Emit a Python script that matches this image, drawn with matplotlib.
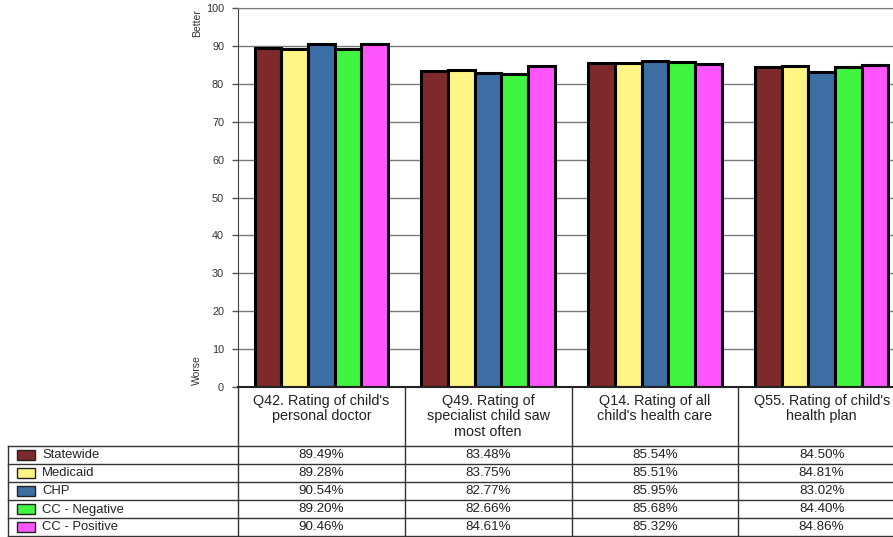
import numpy as np
import matplotlib
matplotlib.use("Agg")
from matplotlib import pyplot as plt
from matplotlib.patches import Rectangle

plt.rcParams['font.family'] = ['Liberation Sans', 'DejaVu Sans']

categories = ["Q42. Rating of child's\npersonal doctor",
              "Q49. Rating of\nspecialist child saw\nmost often",
              "Q14. Rating of all\nchild's health care",
              "Q55. Rating of child's\nhealth plan"]
series = ["Statewide", "Medicaid", "CHP", "CC - Negative", "CC - Positive"]
statewide = [89.49, 83.48, 85.54, 84.50]
medicaid = [89.28, 83.75, 85.51, 84.81]
chp = [90.54, 82.77, 85.95, 83.02]
cc_neg = [89.20, 82.66, 85.68, 84.40]
cc_pos = [90.46, 84.61, 85.32, 84.86]
valeurs = [statewide, medicaid, chp, cc_neg, cc_pos]
couleurs = ["#7e2a2a", "#fff584", "#3c6ea3", "#3ff53f", "#ff55ff"]

W, H = 893, 537
fig = plt.figure(figsize=(W/100, H/100), dpi=100)

# zone du graphique en pixels (la derniere colonne depasse a droite)
x0, x1, ytop, ybas = 238, 905, 8, 387
ax = fig.add_axes([x0/W, 1 - ybas/H, (x1 - x0)/W, (ybas - ytop)/H])
ax.set_xlim(0, len(categories))
ax.set_ylim(0, 100)
ax.set_yticks(np.arange(0, 101, 10))
ax.set_xticks([])
ax.tick_params(axis='y', length=4, width=1, color='#555555', labelsize=7.8,
               labelcolor='#333333', pad=6)
ax.yaxis.grid(True, color='#7a7a7a', linewidth=1)
ax.set_axisbelow(True)
for s in ['top', 'right']:
    ax.spines[s].set_color('#7a7a7a')
ax.spines['left'].set_color('#444444')
ax.spines['bottom'].set_color('#222222')
ax.spines['bottom'].set_linewidth(1.5)

larg = 0.16
pos = np.arange(len(categories))
for i, (nom, v) in enumerate(zip(series, valeurs)):
    ax.bar(pos + 0.1 + larg*i, v, width=larg, align='edge', color=couleurs[i],
           edgecolor='black', linewidth=2.2, label=nom)

fig.text(197/W, 1 - 23/H, "Better", rotation=90, ha='center', va='center',
         fontsize=7.5, color='#333333')
fig.text(197/W, 1 - 370/H, "Worse", rotation=90, ha='center', va='center',
         fontsize=7.5, color='#333333')

# tableau des valeurs sous le graphique, en coordonnees pixel
tb = fig.add_axes([0, 0, 1, 1], facecolor='none')
tb.set_xlim(0, W)
tb.set_ylim(H, 0)
tb.axis('off')

lignes = [446, 464, 482, 500, 518, 536]
bords = [x0 + (x1 - x0)*k/len(categories) for k in range(len(categories) + 1)]
trait = dict(color='#333333', linewidth=1)
for y in lignes:
    tb.plot([8, W], [y, y], **trait)
tb.plot([8, 8], [lignes[0], lignes[-1]], **trait)
for x in bords[:-1]:
    tb.plot([x, x], [ybas, lignes[-1]], **trait)

for k, cat in enumerate(categories):
    xc = (bords[k] + bords[k + 1]) / 2
    tb.text(xc, 394, cat, ha='center', va='top', fontsize=10.4,
            color='#222222', linespacing=1.12)
    for i in range(len(series)):
        yc = (lignes[i] + lignes[i + 1]) / 2
        tb.text(xc, yc + 0.5, f"{valeurs[i][k]:.2f}%", ha='center',
                va='center', fontsize=9.6, color='#222222')

for i, nom in enumerate(series):
    yc = (lignes[i] + lignes[i + 1]) / 2
    tb.add_patch(Rectangle((17, yc - 5), 18, 10, facecolor=couleurs[i],
                           edgecolor='#222222', linewidth=1))
    tb.text(42, yc + 0.5, nom, ha='left', va='center', fontsize=9.4,
            color='#222222')

fig.savefig("out.png", dpi=100)
